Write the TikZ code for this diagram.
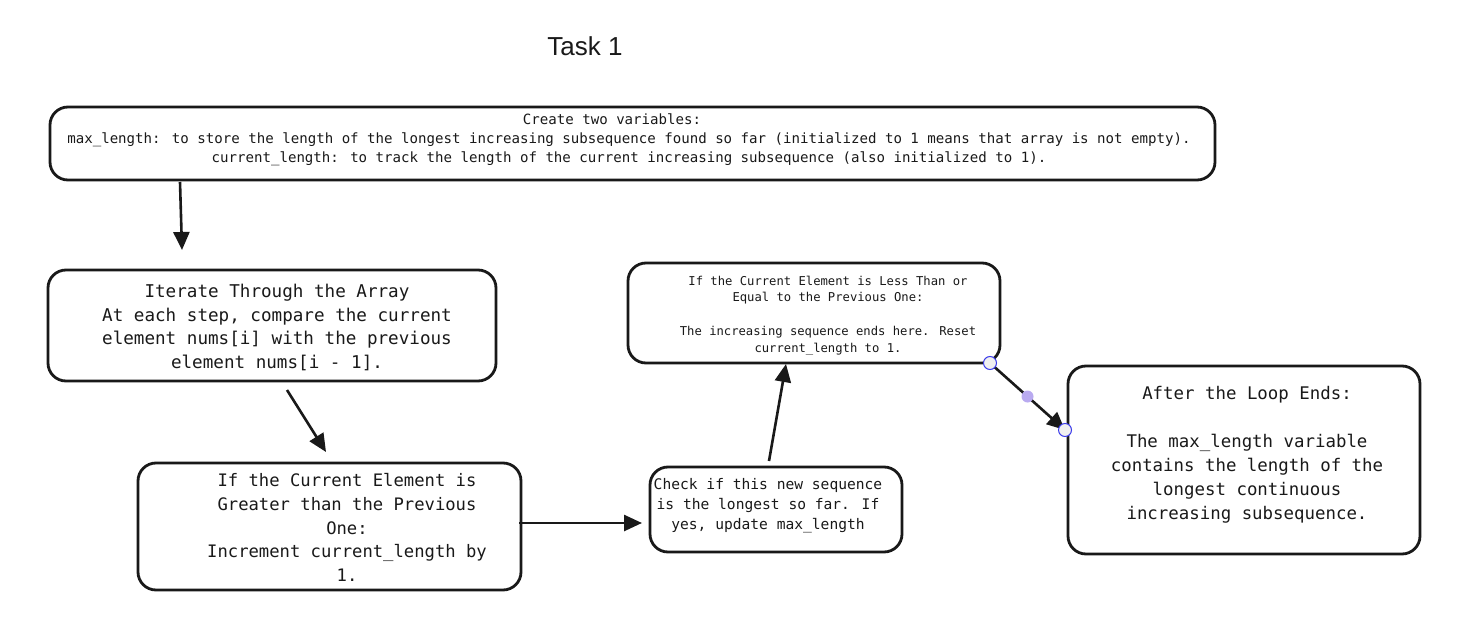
\documentclass[tikz,border=0pt]{standalone}
\usepackage{fontspec}
\setmainfont{Liberation Sans}
\newfontfamily\monofam{DejaVu Sans Mono}
\usetikzlibrary{arrows.meta,calc}
\definecolor{handleblue}{RGB}{60,60,235}
\definecolor{midpurple}{RGB}{185,170,240}
\begin{document}
\begin{tikzpicture}[x=1pt,y=-1pt,
  box/.style={draw=black!90,line width=2.8pt,rounded corners=18pt,fill=white,inner sep=0pt},
  txt/.style={align=center,inner sep=0pt,text=black!90},
  arr/.style={draw=black!90,line width=2.6pt,-{Triangle[length=18pt,width=16pt]}},
  handle/.style={circle,draw=handleblue,line width=1pt,fill=gray!12,minimum size=13pt,inner sep=0pt},
  middot/.style={circle,fill=midpurple,minimum size=12pt,inner sep=0pt}]
\useasboundingbox[fill=white] (0,0) rectangle (1484,626);
% title
\node[txt,font=\fontsize{26}{30}\selectfont] (title) at (585,46) {Task 1};
% boxes
\node[box,minimum width=1165pt,minimum height=73pt] (top) at (632.5,143.5) {};
\node[box,minimum width=448pt,minimum height=111pt] (iter) at (272,325.5) {};
\node[box,minimum width=383pt,minimum height=127pt] (great) at (329.5,526.5) {};
\node[box,minimum width=252pt,minimum height=85pt] (check) at (776,509.5) {};
\node[box,minimum width=372pt,minimum height=100pt] (less) at (814,313) {};
\node[box,minimum width=352pt,minimum height=188pt] (after) at (1244,460) {};
% texts
\node[txt,font=\monofam\fontsize{14.1}{19}\selectfont] (toptxt) at (629,140)
 {Create two variables:\hphantom{xxxx}\\
  max\_length: to store the length of the longest increasing subsequence found so far (initialized to 1 means that array is not empty).\\
  current\_length: to track the length of the current increasing subsequence (also initialized to 1).};
\node[txt,font=\monofam\fontsize{17.6}{23.7}\selectfont] (itertxt) at (277,327.5)
 {Iterate Through the Array\\At each step, compare the current\\element nums[i] with the previous\\element nums[i - 1].};
\node[txt,font=\monofam\fontsize{17.2}{23.7}\selectfont] (greattxt) at (347,527.5)
 {If the Current Element is\\Greater than the Previous\\One:\\Increment current\_length by\\1.};
\node[txt,font=\monofam\fontsize{14.6}{20}\selectfont] (checktxt) at (768,506)
 {Check if this new sequence\\is the longest so far. If\\yes, update max\_length};
\node[txt,font=\monofam\fontsize{12.2}{16.75}\selectfont] (lesstxt) at (828,315.5)
 {If the Current Element is Less Than or\\Equal to the Previous One:\\~\\The increasing sequence ends here. Reset\\current\_length to 1.};
\node[txt,font=\monofam\fontsize{17.4}{24}\selectfont] (aftertxt) at (1247,454.5)
 {After the Loop Ends:\\~\\The max\_length variable\\contains the length of the\\longest continuous\\increasing subsequence.};
% connector end points
\coordinate (a1) at (180,182);
\coordinate (a2) at (182,250);
\coordinate (b1) at (287,390);
\coordinate (b2) at (326,452);
\coordinate (c1) at (519,523);
\coordinate (c2) at (642,523);
\coordinate (d1) at (769,461);
\coordinate (d2) at (786,364);
\coordinate (e1) at (990,363);
\coordinate (e2) at (1065,430);
\draw[arr] (a1) -- (a2);
\draw[arr] (b1) -- (b2);
\draw[arr] (c1) -- (c2);
\draw[arr] (d1) -- (d2);
\draw[arr] (e1) -- (e2);
\node[handle] (h1) at (e1) {};
\node[handle] (h2) at (e2) {};
\node[middot] (hm) at ($(e1)!0.5!(e2)$) {};
\end{tikzpicture}
\end{document}
